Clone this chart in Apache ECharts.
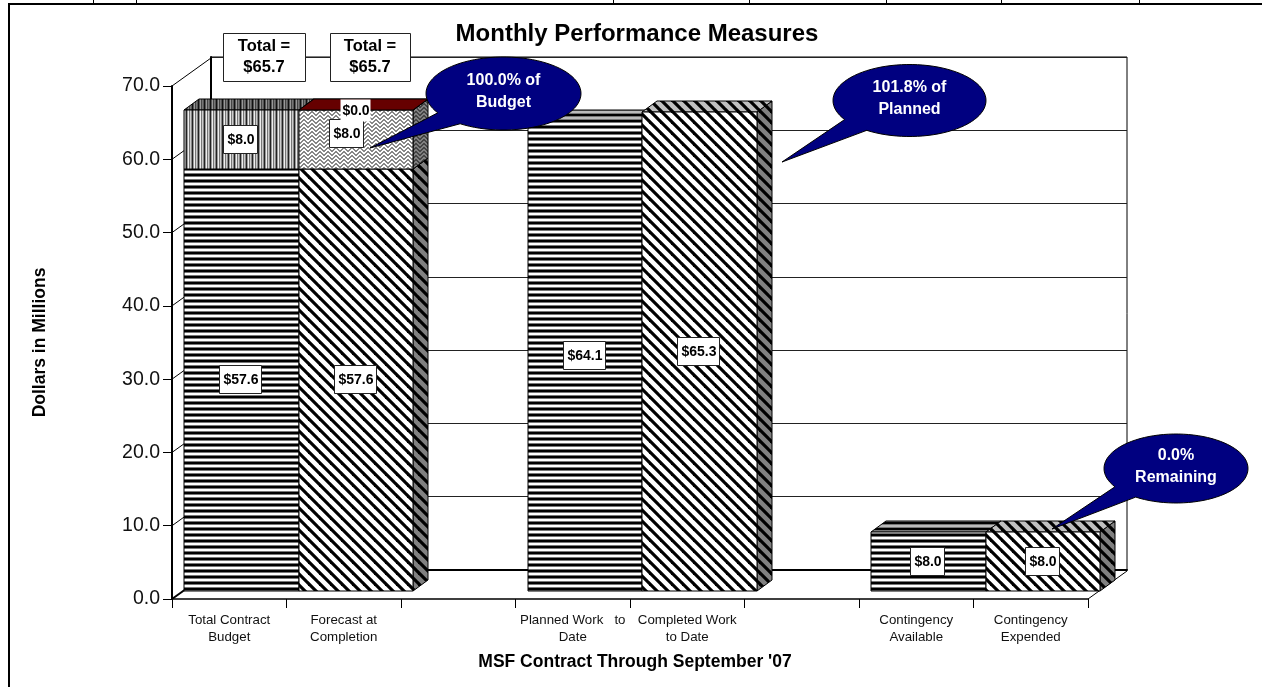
<!DOCTYPE html>
<html>
<head>
<meta charset="utf-8">
<style>html,body{margin:0;padding:0;background:#fff}#c{width:1262px;height:687px}</style>
<script src="https://cdn.jsdelivr.net/npm/echarts@6/dist/echarts.min.js"></script>
</head>
<body>
<div id="c"></div>
<script>
// ---- data ----
const categories = ['Total Contract\nBudget', 'Forecast at\nCompletion', '', 'Planned Work   to\nDate', 'Completed Work\nto Date', '', 'Contingency\nAvailable', 'Contingency\nExpended'];
const baseValues = [57.6, 57.6, null, 64.1, 65.3, null, 8.0, 8.0];
const baseKinds  = ['h', 'd', null, 'h', 'd', null, 'h', 'd'];
const contingencyValues = [8.0, 8.0, null, null, null, null, null, null];
const contingencyKinds  = ['v', 'w', null, null, null, null, null, null];
const remainderValues = [null, 0.0, null, null, null, null, null, null];
const yTicks = [0, 10, 20, 30, 40, 50, 60, 70];
const totals = ['Total =\n$65.7', 'Total =\n$65.7'];
const callouts = ['100.0% of\nBudget', '101.8% of\nPlanned', '0.0%\nRemaining'];

// ---- fills ----
const FONT = '"Liberation Sans", Arial, sans-serif';
function tile(w, h, bg, draw) {
  const c = document.createElement('canvas'); c.width = w; c.height = h;
  const g = c.getContext('2d'); g.fillStyle = bg; g.fillRect(0, 0, w, h); draw(g, w, h);
  return { image: c, repeat: 'repeat' };
}
const horiz = bg => tile(1, 6, bg, g => {
  g.fillStyle = '#000'; g.fillRect(0, 0, 1, 2);
  g.fillStyle = '#777'; g.fillRect(0, 2, 1, 1); g.fillRect(0, 5, 1, 1);
});
const diag = bg => tile(11, 11, bg, (g, w) => {
  g.strokeStyle = '#000'; g.lineWidth = 3.2;
  for (let i = -1; i <= 1; i++) { g.beginPath(); g.moveTo(i * w - 2, -2); g.lineTo(i * w + w + 2, w + 2); g.stroke(); }
});
const vert = dark => tile(6, 1, '#fff', g => {
  (dark ? ['#111', '#555', '#999', '#444', '#777', '#555'] : ['#222', '#999', '#eee', '#777', '#ccc', '#888']).forEach((col, i) => {
    g.fillStyle = col; g.fillRect(i, 0, 1, 1);
  });
});
const WEAVE_ROWS = ['11000011', '01100110', '00111100', '10011001'];
const weave = (bg, ink) => tile(8, 4, bg, g => {
  g.fillStyle = ink;
  WEAVE_ROWS.forEach((row, y) => [...row].forEach((b, x) => { if (b === '1') g.fillRect(x, y, 1, 1); }));
});
const fills = {
  h: { front: horiz('#fff'), top: horiz('#bbb'), side: horiz('#888') },
  d: { front: diag('#fff'), top: diag('#c0c0c0'), side: diag('#808080') },
  v: { front: vert(false), top: vert(true), side: vert(true) },
  w: { front: weave('#fff', '#888'), top: weave('#c0c0c0', '#666'), side: weave('#808080', '#444') },
  r: { front: { color: '#660000' }, top: { color: '#660000' }, side: { color: '#440000' } }
};

// ---- 3D geometry ----
const FRONT_DX = 12, FRONT_DY = -8, TOP_DX = 15, TOP_DY = -11, WALL_DX = 39, WALL_DY = -28;
const solid = (pts, fill) => ({ type: 'polygon', shape: { points: pts }, style: { fill, stroke: '#000', lineWidth: 1 } });
const asFill = f => f.color || f;

function renderBar(params, api) {
  const i = api.value(0), lo = api.value(1), hi = api.value(2);
  const k = fills[baseOrder[params.seriesName][i]];
  const w = api.size([1, 0])[0];
  const a = api.coord([i, lo]), b = api.coord([i, hi]);
  const x0 = Math.round(a[0] - w / 2 + FRONT_DX), x1 = Math.round(a[0] + w / 2 + FRONT_DX);
  const y0 = Math.round(a[1] + FRONT_DY), y1 = Math.round(b[1] + FRONT_DY);
  const children = [];
  children.push(solid([[x1, y0], [x1 + TOP_DX, y0 + TOP_DY], [x1 + TOP_DX, y1 + TOP_DY], [x1, y1]], asFill(k.side)));
  children.push(solid([[x0, y1], [x0 + TOP_DX, y1 + TOP_DY], [x1 + TOP_DX, y1 + TOP_DY], [x1, y1]], asFill(k.top)));
  if (y0 !== y1) children.push(solid([[x0, y0], [x1, y0], [x1, y1], [x0, y1]], asFill(k.front)));
  return { type: 'group', children };
}

const LABEL_SHIFT = { 'contingency-1': [-9, -6] };
function renderLabel(params, api) {
  const i = api.value(0), lo = api.value(1), hi = api.value(2);
  const key = params.seriesName.replace('label-', '');
  const s = LABEL_SHIFT[key + '-' + i] || [0, 0];
  const a = api.coord([i, (lo + hi) / 2]);
  const x = Math.round(a[0] + FRONT_DX + s[0]), y = Math.round(a[1] + FRONT_DY + s[1]);
  const text = '$' + (hi - lo).toFixed(1);
  const bw = text.length > 4 ? 42 : 34, bh = 28;
  const noBorder = key === 'remainder';
  const yy = noBorder ? y + 1 : y;
  return { type: 'group', children: [
    { type: 'rect', shape: { x: x - (noBorder ? 15 : bw / 2) - .5, y: yy - (noBorder ? 11 : bh / 2) - .5, width: noBorder ? 30 : bw, height: noBorder ? 22 : bh },
      style: { fill: '#fff', stroke: noBorder ? null : '#222', lineWidth: 1 } },
    { type: 'text', style: { text, x, y: yy, fill: '#000', font: 'bold 14px ' + FONT, align: 'center', verticalAlign: 'middle' } }
  ] };
}

function renderWall(params, api) {
  const p = api.coord([0, api.value(0)]);
  const x = params.coordSys.x, y = p[1];
  const kids = [{ type: 'line', shape: { x1: x, y1: y, x2: x + WALL_DX, y2: y + WALL_DY }, style: { stroke: '#000', lineWidth: params.dataIndex === 0 ? 2 : 1 } }];
  if (params.dataIndex === 0) {
    const r = x + params.coordSys.width;
    kids.push({ type: 'line', shape: { x1: r, y1: y, x2: r + WALL_DX, y2: y + WALL_DY }, style: { stroke: '#000', lineWidth: 1 } });
  }
  return { type: 'group', children: kids };
}

const baseOrder = { base: baseKinds, contingency: contingencyKinds, remainder: ['r', 'r', null, null, null, null, null, null] };
const stack = (vals, below) => vals.map((v, i) => v == null ? null : [i, below ? below[i] || 0 : 0, (below ? below[i] || 0 : 0) + v]).filter(Boolean);
const tops = baseValues.map((v, i) => v == null ? null : v + (contingencyValues[i] || 0));
const baseData = stack(baseValues);
const contData = stack(contingencyValues, baseValues);
const remData = stack(remainderValues, tops);

const barSeries = (name, data) => ({ name, type: 'custom', xAxisIndex: 0, yAxisIndex: 0, z: 3, renderItem: renderBar, data, encode: { x: 0, y: [1, 2] }, silent: true, clip: false });
const labelSeries = (name, data) => ({ name, type: 'custom', xAxisIndex: 0, yAxisIndex: 0, z: 4, renderItem: renderLabel, data, encode: { x: 0, y: [1, 2] }, silent: true, clip: false });

// ---- annotations ----
function balloon(cx, cy, rx, ry, tipX, tipY, text) {
  const pts = [[tipX, tipY]];
  for (let a = 124; a >= 148 - 360; a -= 4) {
    const t = a * Math.PI / 180;
    pts.push([cx + rx * Math.cos(t), cy + ry * Math.sin(t)]);
  }
  return [
    { type: 'polygon', z: 50, shape: { points: pts }, style: { fill: '#000080', stroke: '#000', lineWidth: 1 } },
    { type: 'text', z: 51, style: { text, x: cx, y: cy - 2, fill: '#fff', font: 'bold 16px ' + FONT, align: 'center', verticalAlign: 'middle', lineHeight: 21.5 } }
  ];
}
function totalBox(x, y, w, h, text) {
  return [
    { type: 'rect', z: 40, shape: { x: x + .5, y: y + .5, width: w, height: h }, style: { fill: '#fff', stroke: '#222', lineWidth: 1 } },
    { type: 'text', z: 41, style: { text, x: x + w / 2, y: y + h / 2, fill: '#000', font: 'bold 16.5px ' + FONT, align: 'center', verticalAlign: 'middle', lineHeight: 21.5 } }
  ];
}
const frameTicks = [93, 136, 613, 749, 886, 1001, 1139].map(x => ({ type: 'line', z: 1, shape: { x1: x + .5, y1: 0, x2: x + .5, y2: 4 }, style: { stroke: '#000', lineWidth: 1 } }));

const option = {
  animation: false,
  backgroundColor: '#fff',
  title: { text: 'Monthly Performance Measures', left: 632, top: 15, textAlign: 'center',
    textStyle: { fontFamily: FONT, fontWeight: 'bold', fontSize: 24, color: '#000', lineHeight: 28 } },
  grid: [
    { left: 172, top: 86, width: 916, height: 513 },
    { left: 211, top: 57, width: 916, height: 513, show: true, borderColor: '#000', borderWidth: 1, backgroundColor: 'transparent' }
  ],
  xAxis: [
    { type: 'category', gridIndex: 0, data: categories, boundaryGap: true,
      name: "MSF Contract Through September '07", nameLocation: 'middle', nameGap: 54,
      nameTextStyle: { fontFamily: FONT, fontWeight: 'bold', fontSize: 17.5, color: '#000', padding: [0, 0, 0, 10] },
      axisLine: { lineStyle: { color: '#000', width: 1.5 } },
      axisTick: { show: true, alignWithLabel: false, interval: 0, length: 9, lineStyle: { color: '#000', width: 1 } },
      axisLabel: { interval: 0, fontFamily: FONT, fontSize: 13.3, color: '#111', lineHeight: 17, margin: 13, hideOverlap: false },
      z: 2 },
    { type: 'category', gridIndex: 1, data: categories, boundaryGap: true,
      axisLine: { lineStyle: { color: '#000', width: 2 } }, axisTick: { show: false }, axisLabel: { show: false }, z: 1 }
  ],
  yAxis: [
    { type: 'value', gridIndex: 0, min: 0, max: 70, interval: 10,
      name: 'Dollars in Millions', nameLocation: 'middle', nameGap: 123,
      nameTextStyle: { fontFamily: FONT, fontWeight: 'bold', fontSize: 17.5, color: '#000' },
      axisLine: { show: true, lineStyle: { color: '#000', width: 2 } },
      axisTick: { show: true, length: 9, lineStyle: { color: '#000', width: 1 } },
      splitLine: { show: false },
      axisLabel: { fontFamily: FONT, fontSize: 19.5, color: '#111', margin: 12, formatter: v => v.toFixed(1) }, z: 2 },
    { type: 'value', gridIndex: 1, min: 0, max: 70, interval: 10,
      axisLine: { show: true, lineStyle: { color: '#000', width: 2 } }, axisTick: { show: false }, axisLabel: { show: false },
      splitLine: { show: true, lineStyle: { color: '#222', width: 1 } }, z: 1 }
  ],
  series: [
    { name: 'wall', type: 'custom', xAxisIndex: 0, yAxisIndex: 0, z: 2, renderItem: renderWall, data: yTicks.map(v => [v]), encode: { y: 0 }, silent: true, clip: false },
    barSeries('base', baseData),
    barSeries('contingency', contData),
    barSeries('remainder', remData),
    labelSeries('label-base', baseData),
    labelSeries('label-contingency', contData),
    labelSeries('label-remainder', remData)
  ],
  graphic: { elements: [
    { type: 'line', z: 1, shape: { x1: 8, y1: 4, x2: 1262, y2: 4 }, style: { stroke: '#000', lineWidth: 2 } },
    { type: 'line', z: 1, shape: { x1: 9, y1: 3, x2: 9, y2: 687 }, style: { stroke: '#000', lineWidth: 2 } },
    ...frameTicks,
    ...totalBox(223, 33, 82, 48, totals[0]),
    ...totalBox(330, 33, 80, 48, totals[1]),
    ...balloon(503.5, 93.5, 77.5, 36.5, 370, 148, callouts[0]),
    ...balloon(909.5, 100.5, 76.5, 36, 782, 162, callouts[1]),
    ...balloon(1176, 468.5, 72, 34.5, 1052, 529, callouts[2])
  ] }
};
echarts.init(document.getElementById('c'), null, { renderer: 'canvas' }).setOption(option);
</script>
</body>
</html>
